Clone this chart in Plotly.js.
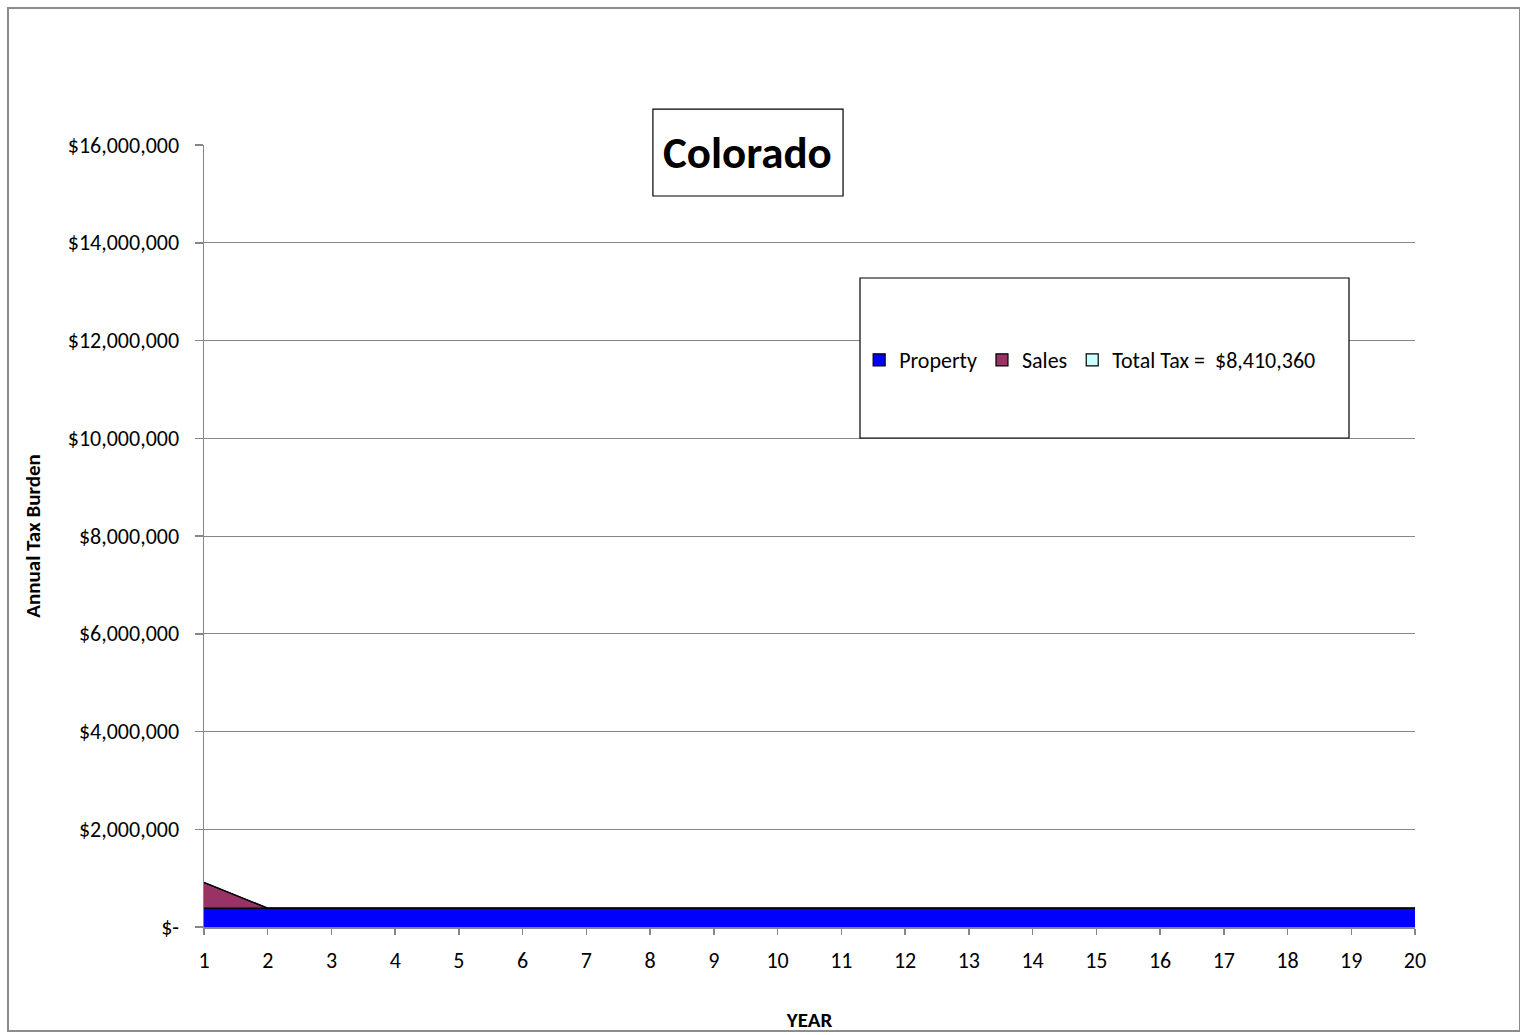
<!DOCTYPE html>
<html>
<head>
<meta charset="utf-8">
<script src="https://cdn.plot.ly/plotly-3.0.1.min.js"></script>
<style>
  body { margin: 0; background: #fff; }
  #chart { width: 1520px; height: 1035px; }
  #frame { position: absolute; left: 7px; top: 7px; width: 1510px; height: 1021px; border: 2px solid #8c8c8c; pointer-events: none; }
</style>
</head>
<body>
<div id="chart"></div>
<div id="frame"></div>
<script>
const years = [1,2,3,4,5,6,7,8,9,10,11,12,13,14,15,16,17,18,19,20];
const propertyTax = [385000,385000,385000,385000,385000,385000,385000,385000,385000,385000,385000,385000,385000,385000,385000,385000,385000,385000,385000,385000];
const salesTax = [525000,0,0,0,0,0,0,0,0,0,0,0,0,0,0,0,0,0,0,0];
const totalTaxSeries = [0,0,0,0,0,0,0,0,0,0,0,0,0,0,0,0,0,0,0,0];
const seriesNames = ["Property", "Sales", "Total Tax =  $8,410,360"];
const seriesColors = ["#0000FF", "#993366", "#CCFFFF"];
const yTickVals = [0,2000000,4000000,6000000,8000000,10000000,12000000,14000000,16000000];
const yTickText = ["$-","$2,000,000","$4,000,000","$6,000,000","$8,000,000","$10,000,000","$12,000,000","$14,000,000","$16,000,000"];
const chartTitle = "Colorado";

const font = "Carlito, 'Liberation Sans', Arial, sans-serif";
const seriesValues = [propertyTax, salesTax, totalTaxSeries];

const traces = [];
seriesValues.forEach((vals, i) => {
  traces.push({x: years, y: vals, name: seriesNames[i], stackgroup: 'one', mode: 'lines',
    line: {color: '#000000', width: i === 2 ? 1 : 1.5}, fillcolor: seriesColors[i], showlegend: false});
});
// legend entries (square swatches like the original)
seriesNames.forEach((nm, i) => {
  traces.push({type: 'bar', x: [null], y: [null], name: nm, showlegend: true,
    marker: {color: seriesColors[i], line: {color: '#000', width: 1.2}}});
});

const layout = {
  width: 1520, height: 1035,
  margin: {l: 204, r: 105, t: 145, b: 108},
  paper_bgcolor: '#ffffff', plot_bgcolor: '#ffffff',
  font: {family: font, size: 22, color: '#000'},
  showlegend: true,
  hovermode: false,
  xaxis: {
    range: [1, 20], tickvals: years, ticktext: years.map(String),
    showgrid: false, zeroline: false, showline: true, linecolor: '#868686', linewidth: 1.5,
    ticks: 'outside', ticklen: 6, tickcolor: '#868686', tickwidth: 1.5,
    ticklabelstandoff: 7,
    tickfont: {size: 22, family: font},
    title: {text: '<b>YEAR</b>', font: {size: 21, family: font}, standoff: 39}
  },
  yaxis: {
    range: [0, 16000000], tickvals: yTickVals, ticktext: yTickText,
    showgrid: true, gridcolor: '#868686', gridwidth: 1,
    zeroline: false, showline: true, linecolor: '#868686', linewidth: 1.5,
    ticks: 'outside', ticklen: 8, tickcolor: '#868686', tickwidth: 1.5,
    ticklabelstandoff: 11,
    tickfont: {size: 22, family: font},
    title: {text: '<b>Annual Tax Burden</b>', font: {size: 21, family: font}, standoff: 21}
  },
  legend: {
    orientation: 'h', x: 0.541, y: 0.725, xanchor: 'left', yanchor: 'middle',
    bgcolor: 'rgba(0,0,0,0)', borderwidth: 0,
    font: {size: 22, family: font}, itemwidth: 30, traceorder: 'normal'
  },
  shapes: [
    {type: 'rect', xref: 'paper', yref: 'paper', x0: 0.5417, x1: 0.9455, y0: 0.6253, y1: 0.8299,
     line: {color: '#000', width: 1.2}, fillcolor: '#ffffff', layer: 'above'},
    {type: 'rect', xref: 'paper', yref: 'paper', x0: 0.3707, x1: 0.5277, y0: 0.9348, y1: 1.046,
     line: {color: '#000', width: 1.2}, fillcolor: '#ffffff', layer: 'above'}
  ],
  annotations: [
    {text: '<b>' + chartTitle + '</b>', xref: 'paper', yref: 'paper', x: 0.4492, y: 0.9904,
     xanchor: 'center', yanchor: 'middle', showarrow: false, font: {size: 45, family: font}}
  ]
};

Plotly.newPlot('chart', traces, layout, {displayModeBar: false, staticPlot: true});
</script>
</body>
</html>
